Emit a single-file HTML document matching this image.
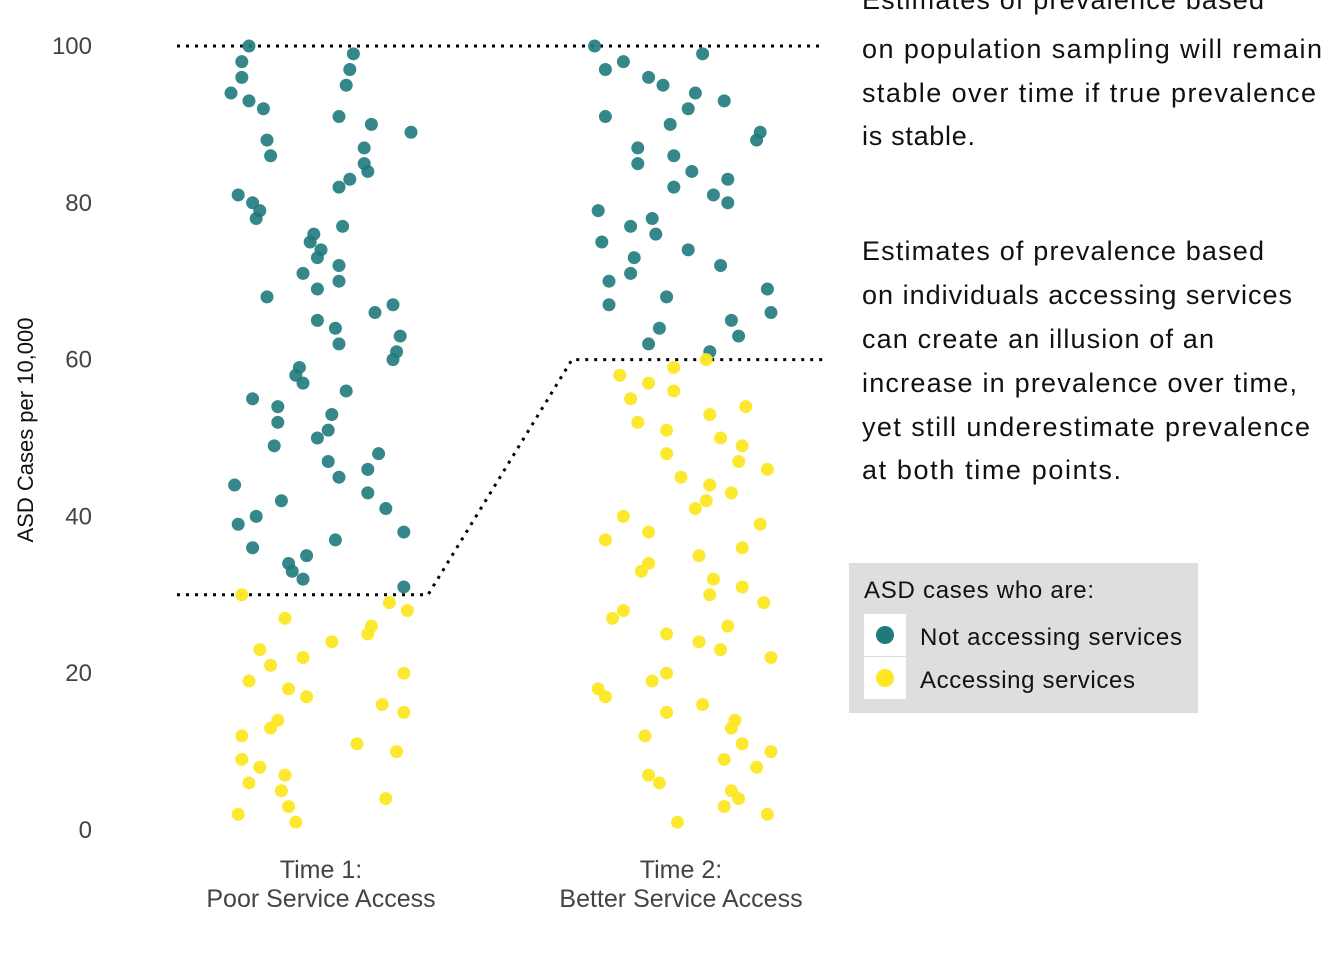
<!DOCTYPE html>
<html><head><meta charset="utf-8"><style>
body{margin:0;background:#fff;overflow:hidden}
svg{font-family:"Liberation Sans",sans-serif}
</style></head><body>
<svg id="chart" width="1344" height="960">
<g id="axes"></g><g id="lines"></g><g id="points"></g>
<g font-size="27" fill="#111" lengthAdjust="spacing">
<text x="862" y="9" textLength="402">Estimates of prevalence based</text>
<text x="862" y="58" textLength="460">on population sampling will remain</text>
<text x="862" y="102" textLength="454">stable over time if true prevalence</text>
<text x="862" y="145" textLength="113">is stable.</text>
<text x="862" y="260" textLength="402">Estimates of prevalence based</text>
<text x="862" y="304" textLength="430">on individuals accessing services</text>
<text x="862" y="348" textLength="352">can create an illusion of an</text>
<text x="862" y="392" textLength="435">increase in prevalence over time,</text>
<text x="862" y="436" textLength="448">yet still underestimate prevalence</text>
<text x="862" y="479" textLength="259">at both time points.</text>
</g>
<g>
<rect x="849" y="563" width="349" height="150" fill="#dedede"/>
<text x="864" y="598" font-size="24" fill="#111" textLength="230">ASD cases who are:</text>
<rect x="864" y="614" width="42" height="42" fill="#fff"/>
<circle cx="885" cy="635" r="9" fill="#1f7a7c"/>
<text x="920" y="645" font-size="24" fill="#111" textLength="262">Not accessing services</text>
<rect x="864" y="657" width="42" height="42" fill="#fff"/>
<circle cx="885" cy="678" r="9" fill="#fde725"/>
<text x="920" y="688" font-size="24" fill="#111" textLength="215">Accessing services</text>
</g>
</svg>
<script>
const categories=["Time 1:|Poor Service Access","Time 2:|Better Service Access"];
const yTicks=[0,20,40,60,80,100];
const populationLevel=[100,100];
const servicesLevel=[30,60];
const tealX=[0.80,0.78,0.78,0.75,0.80,0.84,0.85,0.86,0.77,0.81,0.83,0.82,0.85,0.81,0.88,0.88,0.87,0.76,0.89,0.77,0.82,0.81,0.91,0.92,0.95,0.96,1.09,1.08,1.07,1.05,1.14,1.12,1.12,1.13,1.08,1.05,1.25,1.06,0.98,1.00,0.97,0.99,0.95,1.05,0.99,1.05,0.99,1.04,1.05,1.15,1.20,1.22,1.21,1.20,0.94,0.93,0.95,1.07,1.03,1.02,0.99,1.02,1.05,1.13,1.16,1.13,1.18,1.23,1.04,1.23,
1.76,1.79,1.84,1.91,1.95,2.06,2.04,2.02,2.12,1.79,1.97,2.22,2.21,1.88,1.88,1.98,2.03,2.13,1.98,2.09,2.13,1.77,1.92,1.86,1.93,1.78,2.02,1.87,2.11,1.86,1.80,2.24,1.96,1.80,2.25,2.14,1.94,2.16,1.91,2.08];
const tealY=[100,98,96,94,93,92,88,86,81,80,79,78,68,55,54,52,49,44,42,39,40,36,34,33,32,35,99,97,95,91,90,87,85,84,83,82,89,77,76,74,75,73,71,72,69,70,65,64,62,66,67,63,61,60,59,58,57,56,53,51,50,47,45,46,48,43,41,38,37,31,
100,97,98,96,95,99,94,92,93,91,90,89,88,87,85,86,84,83,82,81,80,79,78,77,76,75,74,73,72,71,70,69,68,67,66,65,64,63,62,61];
const yellowX=[0.78,0.90,0.83,0.80,0.86,0.95,1.03,0.91,0.96,0.88,0.86,0.78,0.78,0.83,0.80,0.90,0.89,0.91,0.93,0.77,1.10,1.14,1.13,1.19,1.24,1.23,1.17,1.23,1.21,1.18,
2.07,1.83,1.98,1.91,1.98,1.86,2.18,2.08,1.88,1.96,2.11,2.17,1.96,2.16,2.24,2.00,2.08,2.14,2.07,2.04,1.84,2.22,1.91,1.79,2.17,2.05,1.91,1.89,2.09,2.17,2.08,2.23,1.84,1.81,2.13,1.96,2.05,2.11,2.25,1.96,1.92,1.77,1.79,2.06,1.96,2.15,2.14,1.90,2.17,2.25,2.12,2.21,1.91,1.94,2.14,2.16,2.12,2.24,1.99];
const yellowY=[30,27,23,19,21,22,24,18,17,14,13,12,9,8,6,7,5,3,1,2,11,26,25,29,28,20,16,15,10,4,
60,58,59,57,56,55,54,53,52,51,50,49,48,47,46,45,44,43,42,41,40,39,38,37,36,35,34,33,32,31,30,29,28,27,26,25,24,23,22,20,19,18,17,16,15,14,13,12,11,10,9,8,7,6,5,4,3,2,1];

const NS="http://www.w3.org/2000/svg";
const xS=c=>321+(c-1)*360;
const yS=v=>830-v*7.84;
function mk(tag,attrs,parent){const e=document.createElementNS(NS,tag);for(const k in attrs)e.setAttribute(k,attrs[k]);parent.appendChild(e);return e;}
const axes=document.getElementById('axes');
yTicks.forEach(t=>{
  const e=mk('text',{x:92,y:yS(t)+8,'text-anchor':'end','font-size':24,fill:'#444'},axes);
  e.textContent=t;
  
  
});
const yt=mk('text',{x:0,y:0,transform:'translate(33,430) rotate(-90)','text-anchor':'middle','font-size':22,fill:'#111'},axes);
yt.textContent='ASD Cases per 10,000';


categories.forEach((c,i)=>{
  const parts=c.split('|');
  parts.forEach((p,j)=>{
    const e=mk('text',{x:xS(i+1),y:878+j*29,'text-anchor':'middle','font-size':25,fill:'#444'},axes);
    e.textContent=p;
    
    
  });
});
const lines=document.getElementById('lines');
const st={stroke:'#000','stroke-width':3,'stroke-dasharray':'3 6',fill:'none'};
const p1=mk('path',Object.assign({d:`M177,${yS(populationLevel[0])}L820,${yS(populationLevel[1])}`},st),lines);


const p2=mk('path',Object.assign({d:`M177,${yS(servicesLevel[0])}L428,${yS(servicesLevel[0])}L572,${yS(servicesLevel[1])}L828,${yS(servicesLevel[1])}`},st),lines);


const pts=document.getElementById('points');
tealX.forEach((x,i)=>{
  const c=mk('circle',{cx:xS(x),cy:yS(tealY[i]),r:6.5,fill:'#1f7a7c','fill-opacity':0.9},pts);
  
  
});
yellowX.forEach((x,i)=>{
  const c=mk('circle',{cx:xS(x),cy:yS(yellowY[i]),r:6.5,fill:'#fde725','fill-opacity':0.95},pts);
  
  
});
</script>
</body></html>
